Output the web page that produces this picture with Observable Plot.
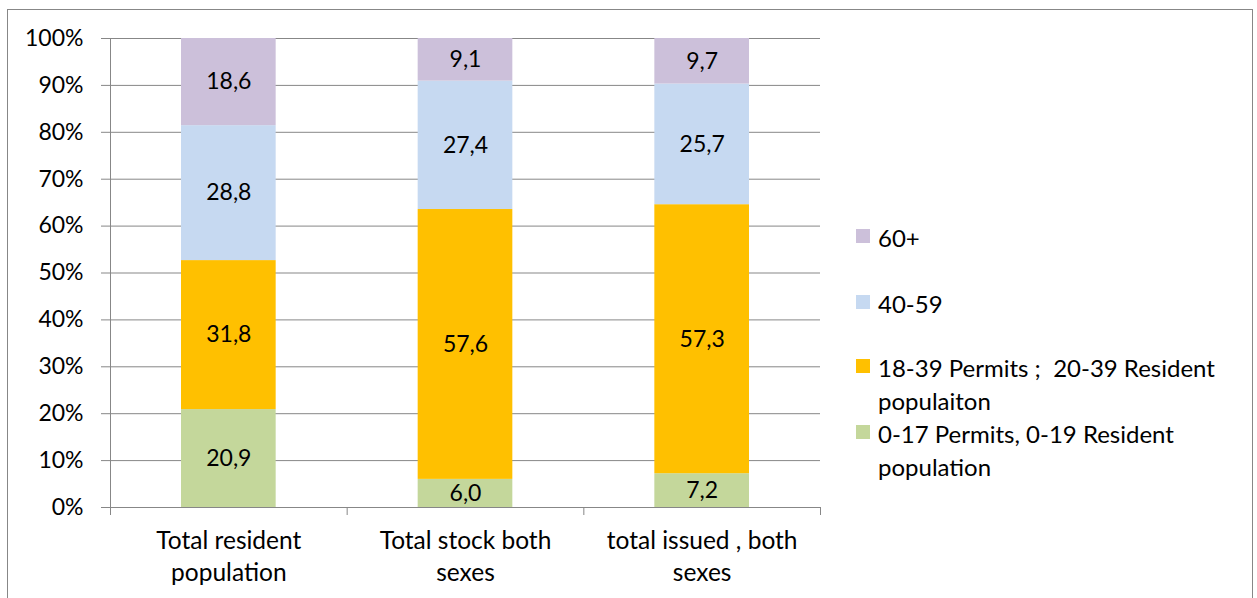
<!DOCTYPE html>
<html><head><meta charset="utf-8">
<script src="https://cdn.jsdelivr.net/npm/d3@7"></script>
<script src="https://cdn.jsdelivr.net/npm/@observablehq/plot@0.6"></script>
<style>
body{margin:0;background:#fff;font-family:Lato,sans-serif;}
#wrap{position:relative;width:1257px;height:598px;overflow:hidden;background:#fff;}
#frame{position:absolute;left:7px;top:9px;width:1244px;height:640px;border:1px solid #878787;}
#chart{position:absolute;left:0;top:0;}
.item{position:absolute;left:856px;font-size:24px;line-height:33px;color:#000;font-family:Lato,sans-serif;}
.sw{position:absolute;left:0;width:14px;height:14px;}
.lab{position:absolute;left:22px;top:0;white-space:pre;}
</style>
</head><body>
<div id="wrap"><div id="frame"></div><div id="chart"></div><div id="legend"></div></div>
<script>
const categories = ["Total resident\npopulation", "Total stock both\nsexes", "total issued , both\nsexes"];
const groups = ["0-17 Permits, 0-19 Resident population", "18-39 Permits ;  20-39 Resident populaiton", "40-59", "60+"];
const legendLabels = ["0-17 Permits, 0-19 Resident\npopulation", "18-39 Permits ;  20-39 Resident\npopulaiton", "40-59", "60+"];
const colors = ["#C4D79B", "#FFC000", "#C6D9F1", "#CCC0DA"];
const v0_17 = [20.9, 6.0, 7.2];
const v18_39 = [31.8, 57.6, 57.3];
const v40_59 = [28.8, 27.4, 25.7];
const v60 = [18.6, 9.1, 9.7];
const yTicks = [0, 0.1, 0.2, 0.3, 0.4, 0.5, 0.6, 0.7, 0.8, 0.9, 1];

const series = [v0_17, v18_39, v40_59, v60];
const rows = [];
categories.forEach((c, i) => {
  const vals = series.map(s => s[i]);
  const total = d3.sum(vals);
  let acc = 0;
  vals.forEach((v, g) => {
    rows.push({i, group: groups[g], value: v, y1: acc / total, y2: (acc + v) / total});
    acc += v;
  });
});
const fmt = v => d3.format(".1f")(v).replace(".", ",");
const grid = "#878787";

const chart = Plot.plot({
  width: 1257, height: 598,
  marginLeft: 110, marginRight: 437, marginTop: 38, marginBottom: 91,
  style: {fontFamily: "Lato, sans-serif", fontSize: "23px", color: "#000", background: "transparent"},
  x: {domain: [0, 3]},
  y: {domain: [0, 1]},
  color: {domain: groups, range: colors},
  marks: [
    Plot.gridY(yTicks, {stroke: grid, strokeOpacity: 1}),
    Plot.axisY(yTicks, {tickSize: 9, tickPadding: 18, stroke: grid, tickFormat: d3.format(".0%"), label: null, fill: "#000"}),
    Plot.ruleX([0], {stroke: grid}),
    Plot.axisX([0, 1, 2, 3], {tickSize: 8, stroke: grid, tickFormat: () => "", label: null}),
    Plot.axisX(categories.map((c, i) => i + 0.5), {tickSize: 0, tickPadding: 19, fontSize: 24.5, lineHeight: 1.31, tickFormat: d => categories[Math.floor(d)], label: null, fill: "#000"}),
    Plot.rect(rows, {x1: d => d.i + 0.3, x2: d => d.i + 0.7, y1: "y1", y2: "y2", fill: "group"}),
    Plot.text(rows, {x: d => d.i + 0.5, y: d => (d.y1 + d.y2) / 2, text: d => fmt(d.value), fill: "#000", fontSize: 23})
  ]
});
document.getElementById("chart").appendChild(chart);

// legend (top to bottom: 60+, 40-59, 18-39, 0-17)
const legTops = [417, 351, 287, 221];
const leg = document.getElementById("legend");
groups.forEach((g, k) => {
  const it = document.createElement("div");
  it.className = "item";
  it.style.top = legTops[k] + "px";
  const sw = document.createElement("div");
  sw.className = "sw";
  sw.style.background = colors[k];
  sw.style.top = "8px";
  const lab = document.createElement("div");
  lab.className = "lab";
  lab.textContent = legendLabels[k];
  it.appendChild(sw); it.appendChild(lab);
  leg.appendChild(it);
});
</script>
</body></html>
